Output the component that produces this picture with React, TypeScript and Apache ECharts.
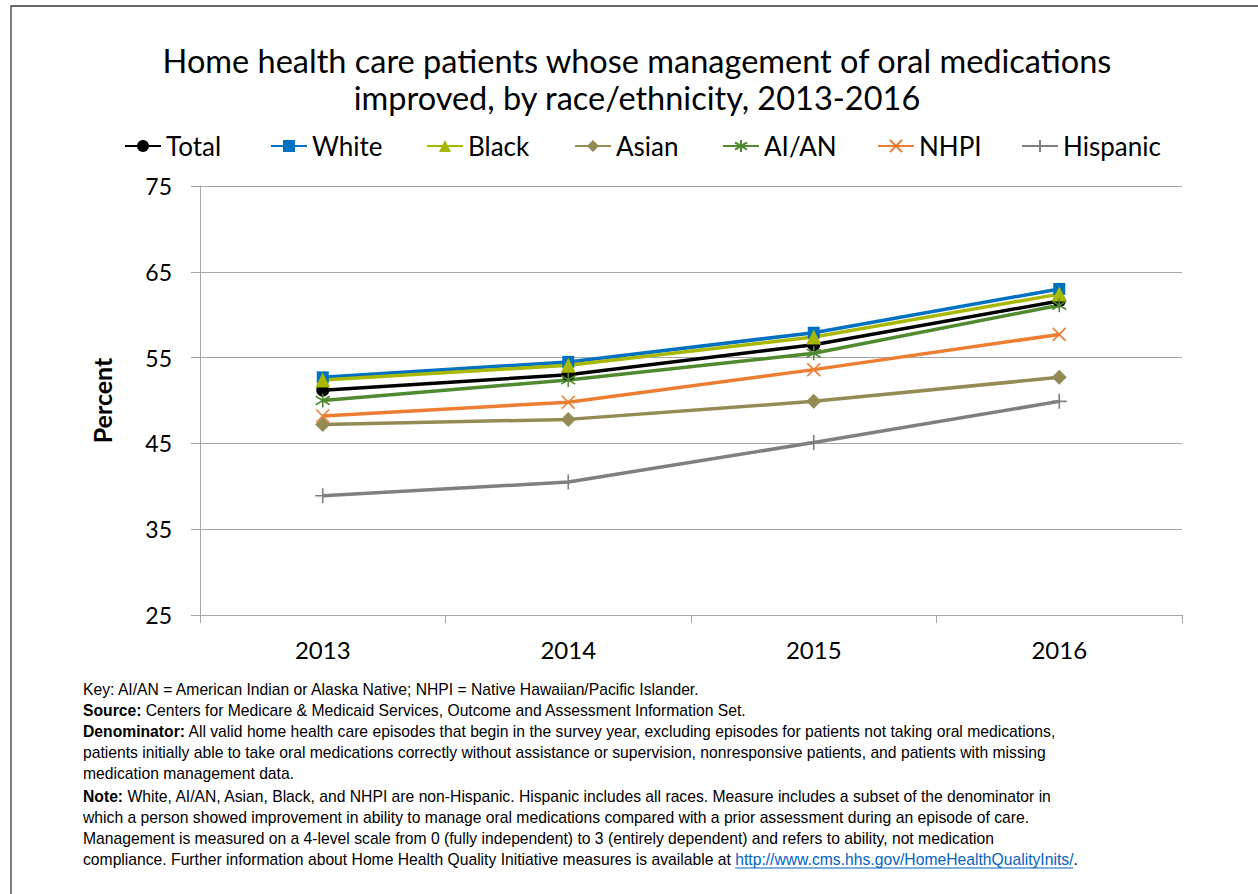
import React, { useEffect, useRef } from "react";
import * as echarts from "echarts";

const years = ["2013", "2014", "2015", "2016"];
const seriesNames = ["Total", "White", "Black", "Asian", "AI/AN", "NHPI", "Hispanic"];
const total = [51.2, 53.0, 56.5, 61.6];
const white = [52.7, 54.5, 57.9, 63.0];
const black = [52.4, 54.1, 57.4, 62.4];
const asian = [47.2, 47.8, 49.9, 52.7];
const aian = [50.0, 52.4, 55.5, 61.1];
const nhpi = [48.2, 49.8, 53.6, 57.7];
const hispanic = [38.9, 40.5, 45.1, 49.9];
const yTicks = { min: 25, max: 75, step: 10 };

const titleLines = [
  "Home health care patients whose management of oral medications",
  "improved, by race/ethnicity, 2013-2016",
];

const footLines = [
  "Key: AI/AN = American Indian or Alaska Native; NHPI = Native Hawaiian/Pacific Islander.",
  "{b|Source:} Centers for Medicare & Medicaid Services, Outcome and Assessment Information Set.",
  "{b|Denominator:} All valid home health care episodes that begin in the survey year, excluding episodes for patients not taking oral medications,",
  "patients initially able to take oral medications correctly without assistance or supervision, nonresponsive patients, and patients with missing",
  "medication management data.",
  "{b|Note:} White, AI/AN, Asian, Black, and NHPI are non-Hispanic. Hispanic includes all races. Measure includes a subset of the denominator in",
  "which a person showed improvement in ability to manage oral medications compared with a prior assessment during an episode of care.",
  "Management is measured on a 4-level scale from 0 (fully independent) to 3 (entirely dependent) and refers to ability, not medication",
];
const lastLinePrefix = "compliance. Further information about Home Health Quality Initiative measures is available at ";
const linkText = "http://www.cms.hhs.gov/HomeHealthQualityInits/";

const FONT = "Lato";
const FOOT_FONT = "Liberation Sans";
const FOOT_SIZE = 15.7;

const colors = ["#000000", "#0070c0", "#a8b800", "#948a54", "#4f8a2e", "#ed7d31", "#7f7f7f"];
const asterisk = "path://M0,-10L0,10M-8,-6L8,6M-8,6L8,-6";
const xMark = "path://M-8,-8L8,8M-8,8L8,-8";
const plusMark = "path://M0,-10L0,10M-10,0L10,0";

export default function App() {
  const ref = useRef<HTMLDivElement>(null);
  useEffect(() => {
    document.body.style.margin = "0";
    const chart = echarts.init(ref.current!, null, { renderer: "svg" });
    const ctx = document.createElement("canvas").getContext("2d")!;
    ctx.font = `${FOOT_SIZE}px "${FOOT_FONT}"`;
    const prefixW = ctx.measureText(lastLinePrefix).width;
    const linkW = ctx.measureText(linkText).width;

    const data = [total, white, black, asian, aian, nhpi, hispanic];
    const symbols = ["circle", "rect", "triangle", "diamond", asterisk, xMark, plusMark];
    const sizes = [13, 12, 15, 15, 14, 13, 15];
    const legendLeft = [124, 270, 426, 574, 722, 877, 1021];

    const footX = 83;
    const footY = [689, 710, 731, 752, 773, 796, 817, 838, 859];

    const graphics: any[] = [
      {
        type: "rect",
        shape: { x: 11, y: 6, width: 1400, height: 1000 },
        style: { fill: "none", stroke: "#3a3a3a", lineWidth: 1.3 },
        silent: true,
      },
      ...titleLines.map((t, i) => ({
        type: "text",
        x: 637,
        y: 60 + i * 37,
        style: {
          text: t,
          fontFamily: FONT,
          fontSize: 32.5,
          fill: "#000",
          align: "center",
          verticalAlign: "middle",
        },
      })),
      ...footLines.map((t, i) => ({
        type: "text",
        x: footX,
        y: footY[i],
        style: {
          text: t,
          fontFamily: FOOT_FONT,
          fontSize: FOOT_SIZE,
          fill: "#000",
          verticalAlign: "middle",
          rich: {
            b: { fontFamily: FOOT_FONT, fontSize: FOOT_SIZE, fontWeight: "bold", fill: "#000" },
          },
        },
      })),
      {
        type: "text",
        x: footX,
        y: footY[8],
        style: {
          text: lastLinePrefix,
          fontFamily: FOOT_FONT,
          fontSize: FOOT_SIZE,
          fill: "#000",
          verticalAlign: "middle",
        },
      },
      {
        type: "text",
        x: footX + prefixW,
        y: footY[8],
        style: {
          text: linkText,
          fontFamily: FOOT_FONT,
          fontSize: FOOT_SIZE,
          fill: "#0563c1",
          verticalAlign: "middle",
        },
      },
      {
        type: "line",
        shape: { x1: footX + prefixW, y1: footY[8] + 9, x2: footX + prefixW + linkW, y2: footY[8] + 9 },
        style: { stroke: "#0563c1", lineWidth: 1 },
      },
      {
        type: "text",
        x: footX + prefixW + linkW,
        y: footY[8],
        style: {
          text: ".",
          fontFamily: FOOT_FONT,
          fontSize: FOOT_SIZE,
          fill: "#000",
          verticalAlign: "middle",
        },
      },
    ];

    chart.setOption({
      animation: false,
      backgroundColor: "#ffffff",
      graphic: graphics,
      legend: seriesNames.map((n, i) => ({
        data: [n],
        left: legendLeft[i],
        top: 133,
        padding: 0,
        itemWidth: 36,
        itemHeight: 15,
        textStyle: { fontFamily: FONT, fontSize: 26, color: "#000" },
        selectedMode: false,
      })),
      grid: { left: 200, right: 76, top: 186, bottom: 279 },
      xAxis: {
        type: "category",
        data: years,
        boundaryGap: true,
        axisLine: { lineStyle: { color: "#a6a6a6", width: 1 } },
        axisTick: { show: true, length: 8, lineStyle: { color: "#a6a6a6" } },
        axisLabel: { fontFamily: FONT, fontSize: 24, color: "#000", margin: 22 },
      },
      yAxis: {
        type: "value",
        min: yTicks.min,
        max: yTicks.max,
        interval: yTicks.step,
        name: "Percent",
        nameLocation: "middle",
        nameGap: 86,
        nameTextStyle: { fontFamily: FONT, fontSize: 25, fontWeight: "bold", color: "#000" },
        axisLine: { show: true, lineStyle: { color: "#a6a6a6", width: 1 } },
        axisTick: { show: true, length: 9, lineStyle: { color: "#a6a6a6" } },
        axisLabel: { fontFamily: FONT, fontSize: 23, color: "#000", margin: 28 },
        splitLine: { lineStyle: { color: "#a6a6a6", width: 1 } },
      },
      series: seriesNames.map((n, i) => ({
        name: n,
        type: "line",
        data: data[i],
        symbol: symbols[i],
        symbolSize: sizes[i],
        showSymbol: true,
        lineStyle: { color: colors[i], width: 3.5 },
        itemStyle: {
          color: colors[i],
          borderColor: colors[i],
          borderWidth: i >= 4 ? 1.6 : 0,
        },
        emphasis: { disabled: true },
      })),
    });
    return () => chart.dispose();
  }, []);
  return <div ref={ref} style={{ width: 1258, height: 894 }} />;
}
